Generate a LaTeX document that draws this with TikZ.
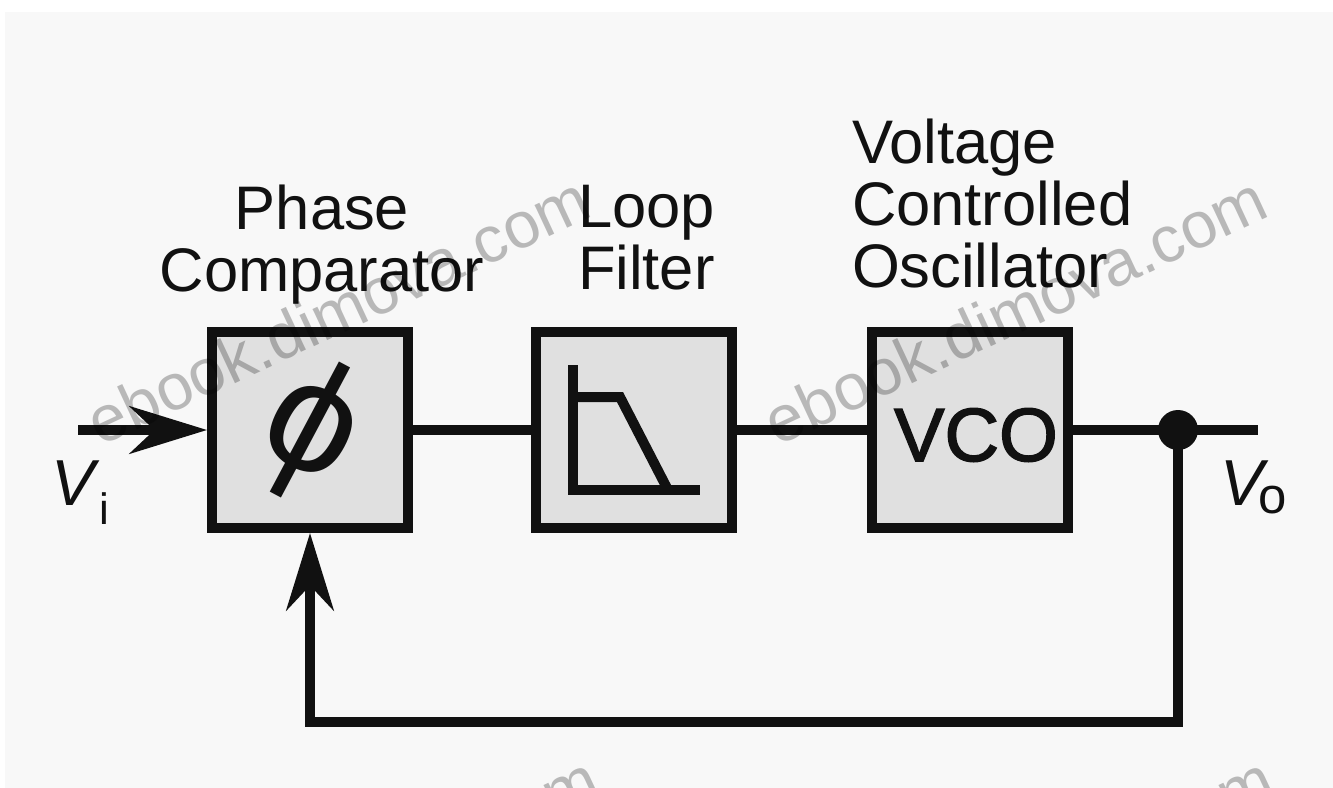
\documentclass[tikz,border=0pt]{standalone}
\usepackage{fontspec}
\setmainfont{Liberation Sans}
\usepackage{xcolor}
\usetikzlibrary{arrows.meta,positioning}
\definecolor{InkBlack}{HTML}{111111}
\definecolor{PaperGray}{HTML}{F8F8F8}
\definecolor{BoxGray}{HTML}{E0E0E0}
\newcommand{\subidx}[3]{{\fontsize{37}{37}\selectfont\textit{V}}\kern-.06em\raisebox{#1}{\fontsize{#2}{#2}\selectfont #3}}

\begin{document}
\begin{tikzpicture}[x=.02cm,y=-.02cm, line width=.2cm, InkBlack,
 every node/.style={font=\fontsize{35}{35.2}\selectfont,inner sep=0pt},
 box/.style={draw=InkBlack,fill=BoxGray,minimum size=3.92cm},
 captext/.style={align=left,anchor=south west},
 arr/.style={-{Stealth[length=1.55cm,width=.95cm,inset=.5cm]},InkBlack},
 wire/.style={InkBlack},
 wmark/.style={font=\fontsize{37}{37}\selectfont,rotate=25,text=gray!85,opacity=.6,blend mode=multiply}]
\fill[white] (0,0) rectangle (1333,788);
\fill[PaperGray] (5,12) rectangle (1333,788);
\node[box] (cmp) at (310,430) {};
\node[box,right=2.36cm of cmp] (flt) {};
\node[box,right=2.6cm of flt] (vco) {};
\coordinate (dot) at (1178,430);
\coordinate (in) at (78,430);
\coordinate (out) at (1258,430);
\coordinate (fb) at (310,722);
\draw[wire] (cmp)--(flt);
\draw[wire] (flt)--(vco);
\draw[wire] (vco)--(out);
\draw[arr] (in)--(cmp);
\draw[arr] (dot) |- (fb)--(cmp);
\node[circle,fill=InkBlack,minimum size=.8cm] (jn) at (dot) {};
% box contents
\node[rotate=-28,font=\fontsize{90}{90}\selectfont] (phi) at (311,430) {ϕ};
\node[font=\fontsize{43}{43}\selectfont\addfontfeature{FakeBold=2}] (vcotxt) at (976,435) {VCO};
% low pass symbol
\coordinate (fa) at (573,365);
\coordinate (fo) at (573,490);
\coordinate (fe) at (700,490);
\coordinate (fk) at (573,397);
\coordinate (fl) at (620,397);
\coordinate (fm) at (668,490);
\draw[wire] (fa)--(fo)--(fe);
\draw[wire] (fk)--(fl)--(fm);
% captions
\node[anchor=south,align=center] (cmpcap) at (322,309) {Phase\\Comparator};
\node[captext] (fltcap) at (573,295) {Loop\\Filter};
\node[captext] (vcocap) at (847,293) {Voltage\\Controlled\\Oscillator};
\node[anchor=base west] (vi) at (47,505) {\subidx{-.32em}{25}{\kern.07em i}};
\node[anchor=base west] (vo) at (1215,505) {\subidx{-.14em}{29}{\kern-.12em o}};
% watermark
\begin{scope}
\clip (0,0) rectangle (1333,788);
\foreach \wx/\wy [count=\wi] in {338/310,1015/310,347/890,1022/890}
  \node[wmark] (wm\wi) at (\wx,\wy) {ebook.dimova.com};
\end{scope}
\useasboundingbox (0,0) rectangle (1333,788);
\end{tikzpicture}
\end{document}
